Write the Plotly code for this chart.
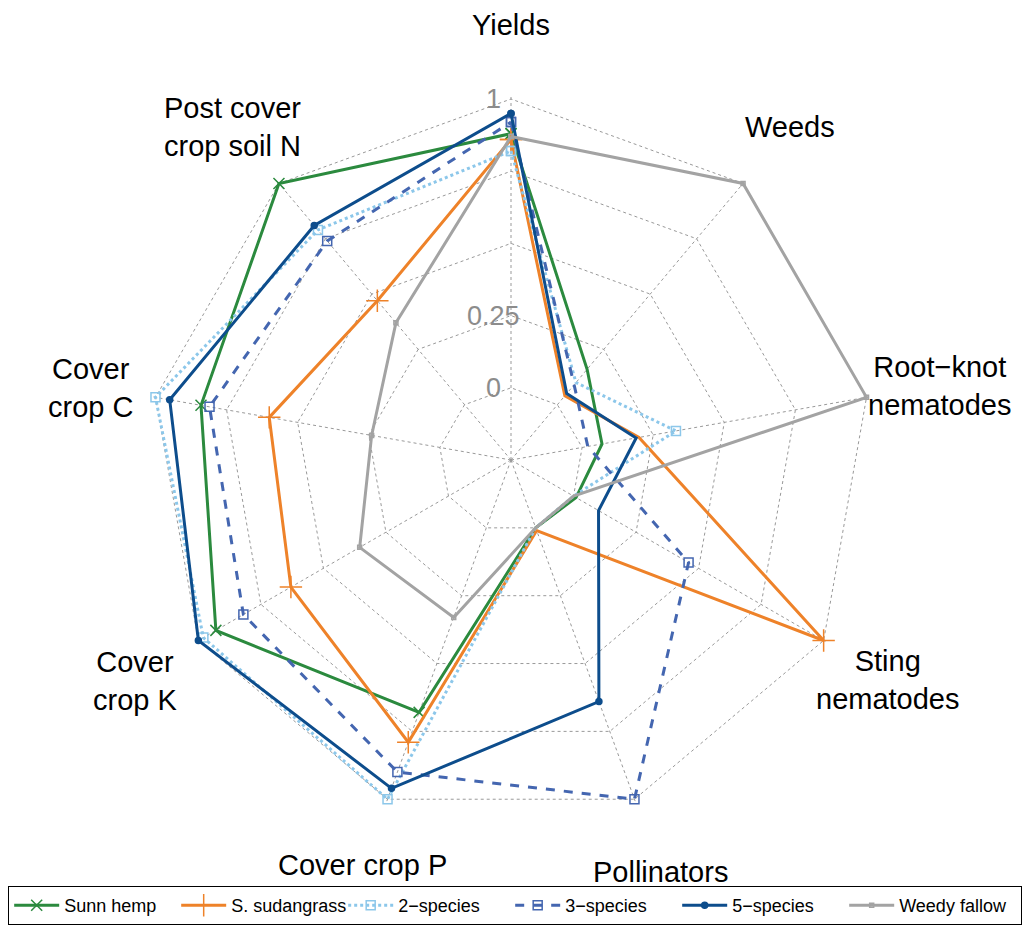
import plotly.graph_objects as go

categories = ["Yields", "Weeds", "Root\u2212knot nematodes", "Sting nematodes", "Pollinators",
              "Cover crop P", "Cover crop K", "Cover crop C", "Post cover crop soil N"]

sunn_hemp = [0.88, 0.16, 0.07, 0.01, 0.0, 0.68, 0.93, 0.84, 1.0]
s_sudangrass = [0.86, 0.04, 0.20, 1.0, 0.01, 0.79, 0.63, 0.60, 0.47]
two_species = [0.82, 0.10, 0.33, 0.0, 0.0, 1.0, 0.98, 1.0, 0.79]
three_species = [0.92, 0.09, 0.02, 0.46, 1.0, 0.90, 0.82, 0.81, 0.74]
five_species = [0.95, 0.05, 0.19, 0.10, 0.64, 0.96, 1.0, 0.95, 0.81]
weedy_fallow = [0.87, 1.0, 1.0, 0.0, 0.0, 0.33, 0.355, 0.24, 0.37]

radial_range = [-0.25, 1.012]   # tiny headroom beyond 1 so lines on the outer ring are not clipped
radial_ticks = [0, 0.25, 0.5, 0.75, 1]
radial_ticktext = ["0", "0.25", "", "", "1"]

# axis label text (display) and their positions in pixels (x, y)
axis_labels = ["Yields", "Weeds", "Root\u2212knot<br>nematodes", "Sting<br>nematodes", "Pollinators",
               "Cover crop P", "Cover<br>crop K", "Cover<br>crop C", "Post cover<br>crop soil N"]
label_pos = [(511, 25), (790, 127), (940, 386), (888, 680), (660, 872),
             (362, 865), (135, 681), (90, 388), (232, 127)]

W, H = 1023, 930
FONT = "Liberation Sans, Arial, Helvetica, sans-serif"

series = [
    ("Sunn hemp", sunn_hemp, "#2b8a3e", "solid", "x-thin", 11),
    ("S. sudangrass", s_sudangrass, "#ee8229", "solid", "cross-thin", 16),
    ("2\u2212species", two_species, "#8cc7ea", "dot", "square-open", 9),
    ("3\u2212species", three_species, "#4466b0", "dash", "square-open", 9),
    ("5\u2212species", five_species, "#0d4d8c", "solid", "circle", 6),
    ("Weedy fallow", weedy_fallow, "#a3a3a3", "solid", "square-open", 4),
]

fig = go.Figure()
for i, (name, vals, color, dash, sym, size) in enumerate(series):
    fig.add_trace(go.Scatterpolar(
        r=vals + [vals[0]],
        theta=categories + [categories[0]],
        mode="lines+markers",
        name=name,
        cliponaxis=False,
        legendwidth=117 if i == len(series) - 1 else None,
        line=dict(color=color, width=3, dash=dash),
        marker=dict(symbol=sym, size=size, color=color, line=dict(color=color, width=1.5)),
    ))

cx, cy, R1 = 511, 460, 361          # centre and pixel radius of the value-1 ring
R = R1 * (radial_range[1] - radial_range[0]) / (1 - radial_range[0])
fig.update_layout(
    width=W, height=H,
    margin=dict(l=0, r=0, t=0, b=0),
    paper_bgcolor="white",
    font=dict(family=FONT, color="black"),
    polar=dict(
        domain=dict(x=[(cx - R) / W, (cx + R) / W], y=[1 - (cy + R) / H, 1 - (cy - R) / H]),
        bgcolor="white",
        gridshape="linear",
        radialaxis=dict(
            range=radial_range, tickvals=radial_ticks, showticklabels=False,
            angle=90, showline=False, ticks="",
            gridcolor="#999999", griddash="dot", gridwidth=1.3,
        ),
        angularaxis=dict(
            rotation=90, direction="clockwise", showticklabels=False, ticks="",
            showline=False, gridcolor="#999999", griddash="dot", gridwidth=1.3,
        ),
    ),
    legend=dict(
        orientation="h", x=0.008, y=1 - 886 / H, xanchor="left", yanchor="top",
        bordercolor="black", borderwidth=1, bgcolor="white",
        font=dict(size=18, family=FONT),
        itemwidth=45, entrywidth=107, entrywidthmode="pixels",
    ),
)

for txt, (px, py) in zip(axis_labels, label_pos):
    fig.add_annotation(text=txt, x=px / W, y=1 - py / H, xref="paper", yref="paper",
                       xanchor="center", yanchor="middle", showarrow=False,
                       font=dict(size=29, family=FONT, color="black"))

# radial tick labels, placed along the vertical (Yields) spoke using the radial scale
for tv, tt in zip(radial_ticks, radial_ticktext):
    if not tt:
        continue
    frac = (tv - radial_range[0]) / (radial_range[1] - radial_range[0])
    fig.add_annotation(text=tt, x=(cx - 18) / W, y=1 - (cy - frac * R) / H,
                       xref="paper", yref="paper", xanchor="center", yanchor="middle",
                       showarrow=False, font=dict(size=27, family=FONT, color="#8c8c8c"))

fig.write_html("out.html", config={"displayModeBar": False},
               post_script="document.body.style.margin='0px';")
